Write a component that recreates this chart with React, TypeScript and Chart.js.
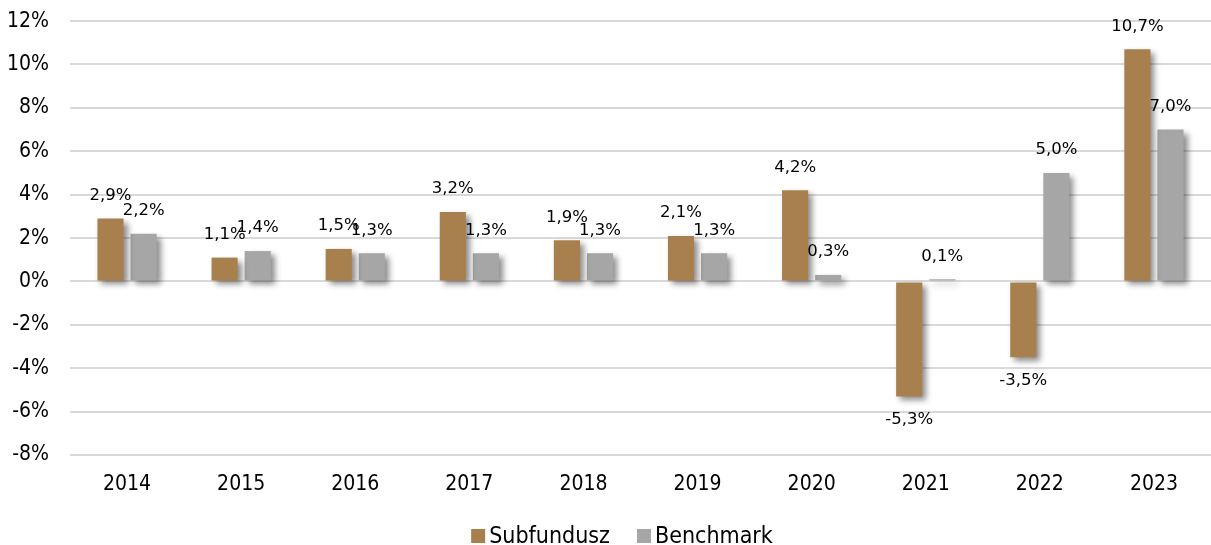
import React, { useEffect, useRef } from "react";
import { Chart, registerables } from "chart.js";

Chart.register(...registerables);

const categories = ["2014", "2015", "2016", "2017", "2018", "2019", "2020", "2021", "2022", "2023"];
const subfunduszValues = [2.9, 1.1, 1.5, 3.2, 1.9, 2.1, 4.2, -5.3, -3.5, 10.7];
const benchmarkValues = [2.2, 1.4, 1.3, 1.3, 1.3, 1.3, 0.3, 0.1, 5.0, 7.0];
const seriesNames = ["Subfundusz", "Benchmark"];
const seriesColors = ["#A8804D", "#A6A6A6"];
const yMin = -8;
const yMax = 12;
const yStep = 2;

const fmt = (v: number) => v.toFixed(1).replace(".", ",") + "%";

const shadowPlugin = {
  id: "barShadow",
  beforeDatasetDraw(chart: any) {
    const ctx = chart.ctx;
    ctx.save();
    ctx.shadowColor = "rgba(0,0,0,0.45)";
    ctx.shadowBlur = 6;
    ctx.shadowOffsetX = 4;
    ctx.shadowOffsetY = 4;
  },
  afterDatasetDraw(chart: any) {
    chart.ctx.restore();
  },
};

const labelPlugin = {
  id: "valueLabels",
  afterDatasetsDraw(chart: any) {
    const ctx = chart.ctx;
    ctx.save();
    ctx.font = "16.5px 'DejaVu Sans'";
    ctx.fillStyle = "#000";
    ctx.textAlign = "center";
    ctx.textBaseline = "middle";
    chart.data.datasets.forEach((ds: any, i: number) => {
      const meta = chart.getDatasetMeta(i);
      meta.data.forEach((el: any, j: number) => {
        const v = ds.data[j];
        const y = v >= 0 ? el.y - 23 : el.y + 23;
        ctx.fillText(fmt(v), el.x, y);
      });
    });
    ctx.restore();
  },
};

const legendPlugin = {
  id: "bottomLegend",
  afterDraw(chart: any) {
    const ctx = chart.ctx;
    ctx.save();
    ctx.font = "23px 'DejaVu Sans Condensed'";
    const box = 14;
    const gapText = 4;
    const gapItem = 27;
    const widths = chart.data.datasets.map((ds: any) => ctx.measureText(ds.label).width);
    const total = widths.reduce((a: number, w: number) => a + box + gapText + w, 0) + gapItem * (widths.length - 1);
    let x = 622 - total / 2;
    const cy = chart.height - 9;
    ctx.textBaseline = "middle";
    ctx.textAlign = "left";
    chart.data.datasets.forEach((ds: any, i: number) => {
      ctx.fillStyle = ds.backgroundColor;
      ctx.fillRect(x, cy - box / 2, box, box);
      x += box + gapText;
      ctx.fillStyle = "#000";
      ctx.fillText(ds.label, x, cy + 1);
      x += widths[i] + gapItem;
    });
    ctx.restore();
  },
};

export default function App() {
  const ref = useRef<HTMLCanvasElement>(null);
  useEffect(() => {
    document.body.style.margin = "0";
    const chart = new Chart(ref.current!, {
      type: "bar",
      data: {
        labels: categories,
        datasets: seriesNames.map((name, i) => ({
          label: name,
          data: i === 0 ? subfunduszValues : benchmarkValues,
          backgroundColor: seriesColors[i],
          categoryPercentage: 0.58,
          barPercentage: 0.79,
        })),
      },
      options: {
        responsive: false,
        animation: false,
        layout: { padding: { top: 0, right: 0, left: 0, bottom: 50 } },
        plugins: {
          tooltip: { enabled: false },
          legend: { display: false },
        },
        scales: {
          x: {
            grid: { display: false },
            border: { display: false },
            ticks: {
              font: { family: "'DejaVu Sans Condensed'", size: 21 },
              color: "#000",
              padding: 9,
            },
            afterFit(scale: any) {
              scale.height = 40;
            },
          },
          y: {
            min: yMin,
            max: yMax,
            grid: { color: "#D9D9D9", lineWidth: 2, drawTicks: false },
            border: { display: false },
            ticks: {
              stepSize: yStep,
              font: { family: "'DejaVu Sans Condensed'", size: 21, lineHeight: 0.01 },
              color: "#000",
              padding: 21,
              callback: (v: any) => v + "%",
            },
            afterFit(scale: any) {
              scale.width = 70;
            },
          },
        },
      },
      plugins: [shadowPlugin, labelPlugin, legendPlugin],
    });
    return () => chart.destroy();
  }, []);
  return (
    <div style={{ width: 1211, height: 545 }}>
      <canvas ref={ref} width={1211} height={545} />
    </div>
  );
}
